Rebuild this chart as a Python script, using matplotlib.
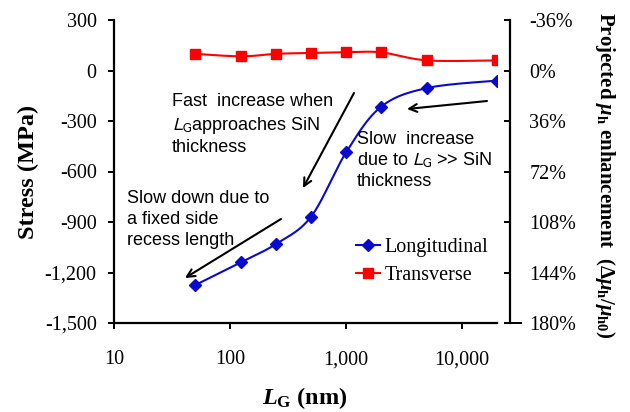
import numpy as np
import matplotlib
matplotlib.use("Agg")
import matplotlib.pyplot as plt
from matplotlib.ticker import FuncFormatter, NullLocator
from matplotlib.lines import Line2D

# gate length sweep (nm) and simulated channel stress (MPa)
lg_nm = [50, 125, 250, 500, 1000, 2000, 5000, 20000]
longitudinal = [-1275, -1138, -1030, -868, -487, -216, -104, -60]
transverse = [99, 84, 99, 104, 108, 108, 60, 60]

x_ticks = [10, 100, 1000, 10000]
stress_ticks = [300, 0, -300, -600, -900, -1200, -1500]
mob_ticks = [-36, 0, 36, 72, 108, 144, 180]

W, H = 630, 412

plt.rcParams['axes.unicode_minus'] = False
plt.rcParams['mathtext.fontset'] = 'custom'
plt.rcParams['mathtext.rm'] = 'Liberation Serif:bold'
plt.rcParams['mathtext.it'] = 'Liberation Serif:italic:bold'
plt.rcParams['mathtext.bf'] = 'Liberation Serif:bold'


def px(x, y):
    # image pixel (top-left origin) -> figure fraction
    return x / W, 1 - y / H


def smooth(xs, ys, n=24):
    # excel-like smoothed line: bezier through points, control pts from neighbours
    pts = np.column_stack([np.log10(xs), ys]).astype(float)
    P = np.vstack([pts[0], pts, pts[-1]])
    segs = []
    t = np.linspace(0, 1, n, endpoint=False)[:, None]
    for i in range(1, len(P) - 2):
        p0, p1, p2, p3 = P[i - 1], P[i], P[i + 1], P[i + 2]
        c1 = p1 + (p2 - p0) / 6
        c2 = p2 - (p3 - p1) / 6
        segs.append((1 - t) ** 3 * p1 + 3 * (1 - t) ** 2 * t * c1
                    + 3 * (1 - t) * t ** 2 * c2 + t ** 3 * p2)
    segs.append(pts[-1:])
    c = np.vstack(segs)
    return 10 ** c[:, 0], c[:, 1], list(range(0, n * (len(xs) - 1) + 1, n))


fig = plt.figure(figsize=(6.3, 4.12), dpi=100)
l, b = px(114, 323)
r, t = px(497, 20)
ax = fig.add_axes([l, b, r - l, t - b])

blue = '#0A0ACD'
red = '#FF0000'

sx, sy, mk = smooth(lg_nm, longitudinal)
ax.plot(sx, sy, color=blue, lw=1.5, marker='D', ms=6, markevery=mk,
        label='Longitudinal')
sx, sy, mk = smooth(lg_nm, transverse)
ax.plot(sx, sy, color=red, lw=1.5, marker='s', ms=6.5, markevery=mk,
        label='Transverse')

ax.set_xscale('log')
ax.set_xlim(10, 20000)
ax.set_ylim(-1500, 300)
ax.set_xticks(x_ticks)
ax.xaxis.set_minor_locator(NullLocator())
ax.set_yticks(stress_ticks)
fmt = FuncFormatter(lambda v, p: '{:,.0f}'.format(v))
ax.xaxis.set_major_formatter(fmt)
ax.yaxis.set_major_formatter(fmt)

ax.spines['top'].set_visible(False)
ax.spines['right'].set_visible(False)
ax.spines['left'].set_linewidth(1.6)
ax.spines['bottom'].set_linewidth(1.6)
ax.tick_params(axis='both', direction='out', length=4.5, width=1.4,
               labelsize=14.5, labelfontfamily='Liberation Serif')
ax.tick_params(axis='y', pad=8)
ax.tick_params(axis='x', pad=15)

# right axis: projected mobility enhancement
ax2 = ax.twinx()
ax2.set_ylim(180, -36)
ax2.set_yticks(mob_ticks)
ax2.yaxis.set_major_formatter(FuncFormatter(lambda v, p: '{:.0f}%'.format(v)))
for s in ['top', 'left', 'bottom']:
    ax2.spines[s].set_visible(False)
ax2.spines['right'].set_position(('outward', 9.4))
ax2.spines['right'].set_linewidth(1.6)
ax2.tick_params(axis='y', direction='in', length=4.5, width=1.4, pad=14,
                labelsize=14.5, labelfontfamily='Liberation Serif')
fig.add_artist(Line2D([510 / W, 521 / W], [1 - 323 / H] * 2, color='black', lw=1.4))

ax.legend(loc='upper left', bbox_to_anchor=((346 - 114) / 383, (323 - 228) / 303),
          frameon=False, borderpad=0, handlelength=1.2, handletextpad=0.2,
          labelspacing=0.45, numpoints=1,
          prop={'family': 'Liberation Serif', 'size': 14.5})

# axis titles
fig.text(*px(28, 172), 'Stress (MPa)', rotation=90, ha='center', va='center',
         family='Liberation Serif', weight='bold', size=17.5)
fig.text(*px(305, 398), r'$L_\mathrm{G}$ (nm)', ha='center', va='center',
         family='Liberation Serif', weight='bold', size=17.5)
fig.text(*px(605, 175),
         r'Projected $\mu_\mathrm{h}$ enhancement  ($\Delta\mu_\mathrm{h}/\mu_\mathrm{h0}$)',
         rotation=-90, ha='center', va='center',
         family='Liberation Serif', weight='bold', size=15)

# annotations
note = dict(family='Liberation Sans', size=13, ha='left', va='top',
            math_fontfamily='stixsans')
fig.text(*px(172, 93), 'Fast  increase when\n$L_\\mathrm{G}$approaches SiN\nthickness',
         linespacing=1.3, **note)
fig.text(*px(127, 190), 'Slow down due to\na fixed side\nrecess length',
         linespacing=1.3, **note)
fig.text(*px(357, 131), 'Slow  increase\ndue to $L_\\mathrm{G}$ >> SiN\nthickness',
         linespacing=1.2, **note)

arrow = dict(arrowstyle='->', color='black', lw=1.5, shrinkA=0, shrinkB=0,
             mutation_scale=14)
for head, tail in [((303, 188), (354, 93)),
                   ((185, 278), (281, 219)),
                   ((407, 109), (487, 101))]:
    ax.annotate('', xy=px(*head), xytext=px(*tail), xycoords='figure fraction',
                textcoords='figure fraction', arrowprops=arrow)

fig.savefig('out.png', dpi=100)
